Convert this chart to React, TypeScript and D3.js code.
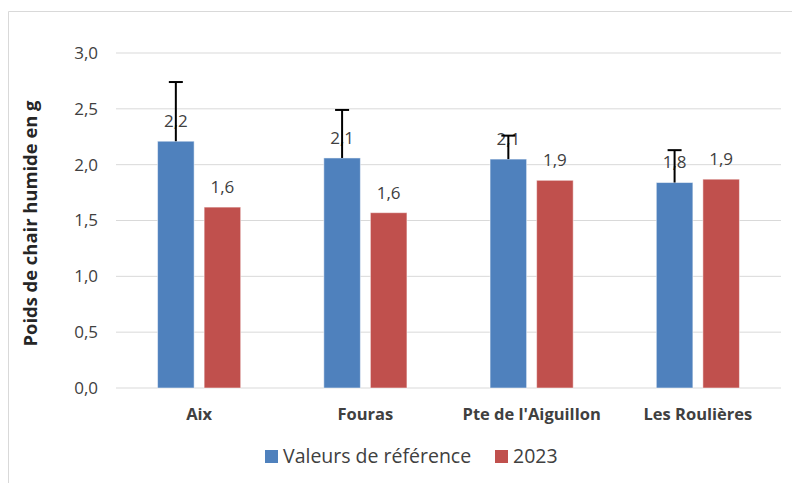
import React from "react";
import * as d3 from "d3";

const categories = ["Aix", "Fouras", "Pte de l'Aiguillon", "Les Roulières"];
const refValues = [2.21, 2.06, 2.05, 1.84];
const refErrors = [0.53, 0.43, 0.21, 0.29];
const values2023 = [1.62, 1.57, 1.86, 1.87];
const seriesNames = ["Valeurs de référence", "2023"];
const yTicks = [0, 0.5, 1, 1.5, 2, 2.5, 3];

const W = 792;
const H = 483;
const FONT = "'Open Sans', 'Noto Sans', sans-serif";
const BLUE = "#4f81bd";
const RED = "#c0504d";

export default function App() {
  const left = 116, right = 781, top = 53, bottom = 388;
  const y = d3.scaleLinear().domain([0, 3]).range([bottom, top]);
  const x0 = d3.scaleBand<string>().domain(categories).range([left, right]).paddingInner(0.5).paddingOuter(0.25);
  const x1 = d3.scaleBand<string>().domain(seriesNames).range([0, x0.bandwidth()]).paddingInner(0.215);
  const fmt = (v: number) => (Math.round(v * 10) / 10).toFixed(1).replace(".", ",");
  const series = [refValues, values2023];
  const colors = [BLUE, RED];

  return (
    <svg width={W} height={H} style={{ position: "absolute", left: 0, top: 0, fontFamily: FONT }}>
      <rect x={0} y={0} width={W} height={H} fill="#fff" />
      <path d={`M8.5,${H} V11.5 H${W}`} fill="none" stroke="#d9d9d9" strokeWidth={1} />
      {yTicks.map((t) => (
        <g key={t}>
          <line x1={left} x2={right} y1={y(t)} y2={y(t)} stroke="#d9d9d9" strokeWidth={1} />
          <text x={left - 18} y={y(t)} dy="0.35em" textAnchor="end" fontSize={17} fill="#404040">
            {fmt(t)}
          </text>
        </g>
      ))}
      {categories.map((c, i) => (
        <g key={c}>
          {series.map((s, k) => {
            const bx = (x0(c) as number) + (x1(seriesNames[k]) as number);
            const bw = x1.bandwidth();
            return (
              <rect key={k} x={bx} y={y(s[i])} width={bw} height={y(0) - y(s[i])} fill={colors[k]} stroke="#fff" strokeOpacity={0.5} strokeWidth={1} />
            );
          })}
          {series.map((s, k) => {
            const bx = (x0(c) as number) + (x1(seriesNames[k]) as number) + x1.bandwidth() / 2;
            return (
              <text key={"l" + k} x={bx} y={y(s[i]) - 20} dy="0.35em" textAnchor="middle" fontSize={17} fill="#404040">
                {fmt(s[i])}
              </text>
            );
          })}
          {(() => {
            const cx = (x0(c) as number) + (x1(seriesNames[0]) as number) + x1.bandwidth() / 2;
            const yt = y(refValues[i] + refErrors[i]);
            return (
              <g stroke="#000" strokeWidth={2}>
                <line x1={cx} x2={cx} y1={y(refValues[i])} y2={yt} />
                <line x1={cx - 7} x2={cx + 7} y1={yt} y2={yt} />
              </g>
            );
          })()}
          <text x={(x0(c) as number) + x0.bandwidth() / 2} y={420} textAnchor="middle" fontSize={16.5} fontWeight="bold" fill="#404040">
            {c}
          </text>
        </g>
      ))}
      <text transform={`translate(31,223.5) rotate(-90)`} textAnchor="middle" dy="0.35em" fontSize={18.4} fontWeight="bold" fill="#262626">
        Poids de chair humide en g
      </text>
      <g>
        <rect x={265} y={450} width={13} height={13} fill={BLUE} />
        <text x={283} y={463} fontSize={19.5} fill="#404040">{seriesNames[0]}</text>
        <rect x={495} y={450} width={13} height={13} fill={RED} />
        <text x={513} y={463} fontSize={19.5} fill="#404040">{seriesNames[1]}</text>
      </g>
    </svg>
  );
}
